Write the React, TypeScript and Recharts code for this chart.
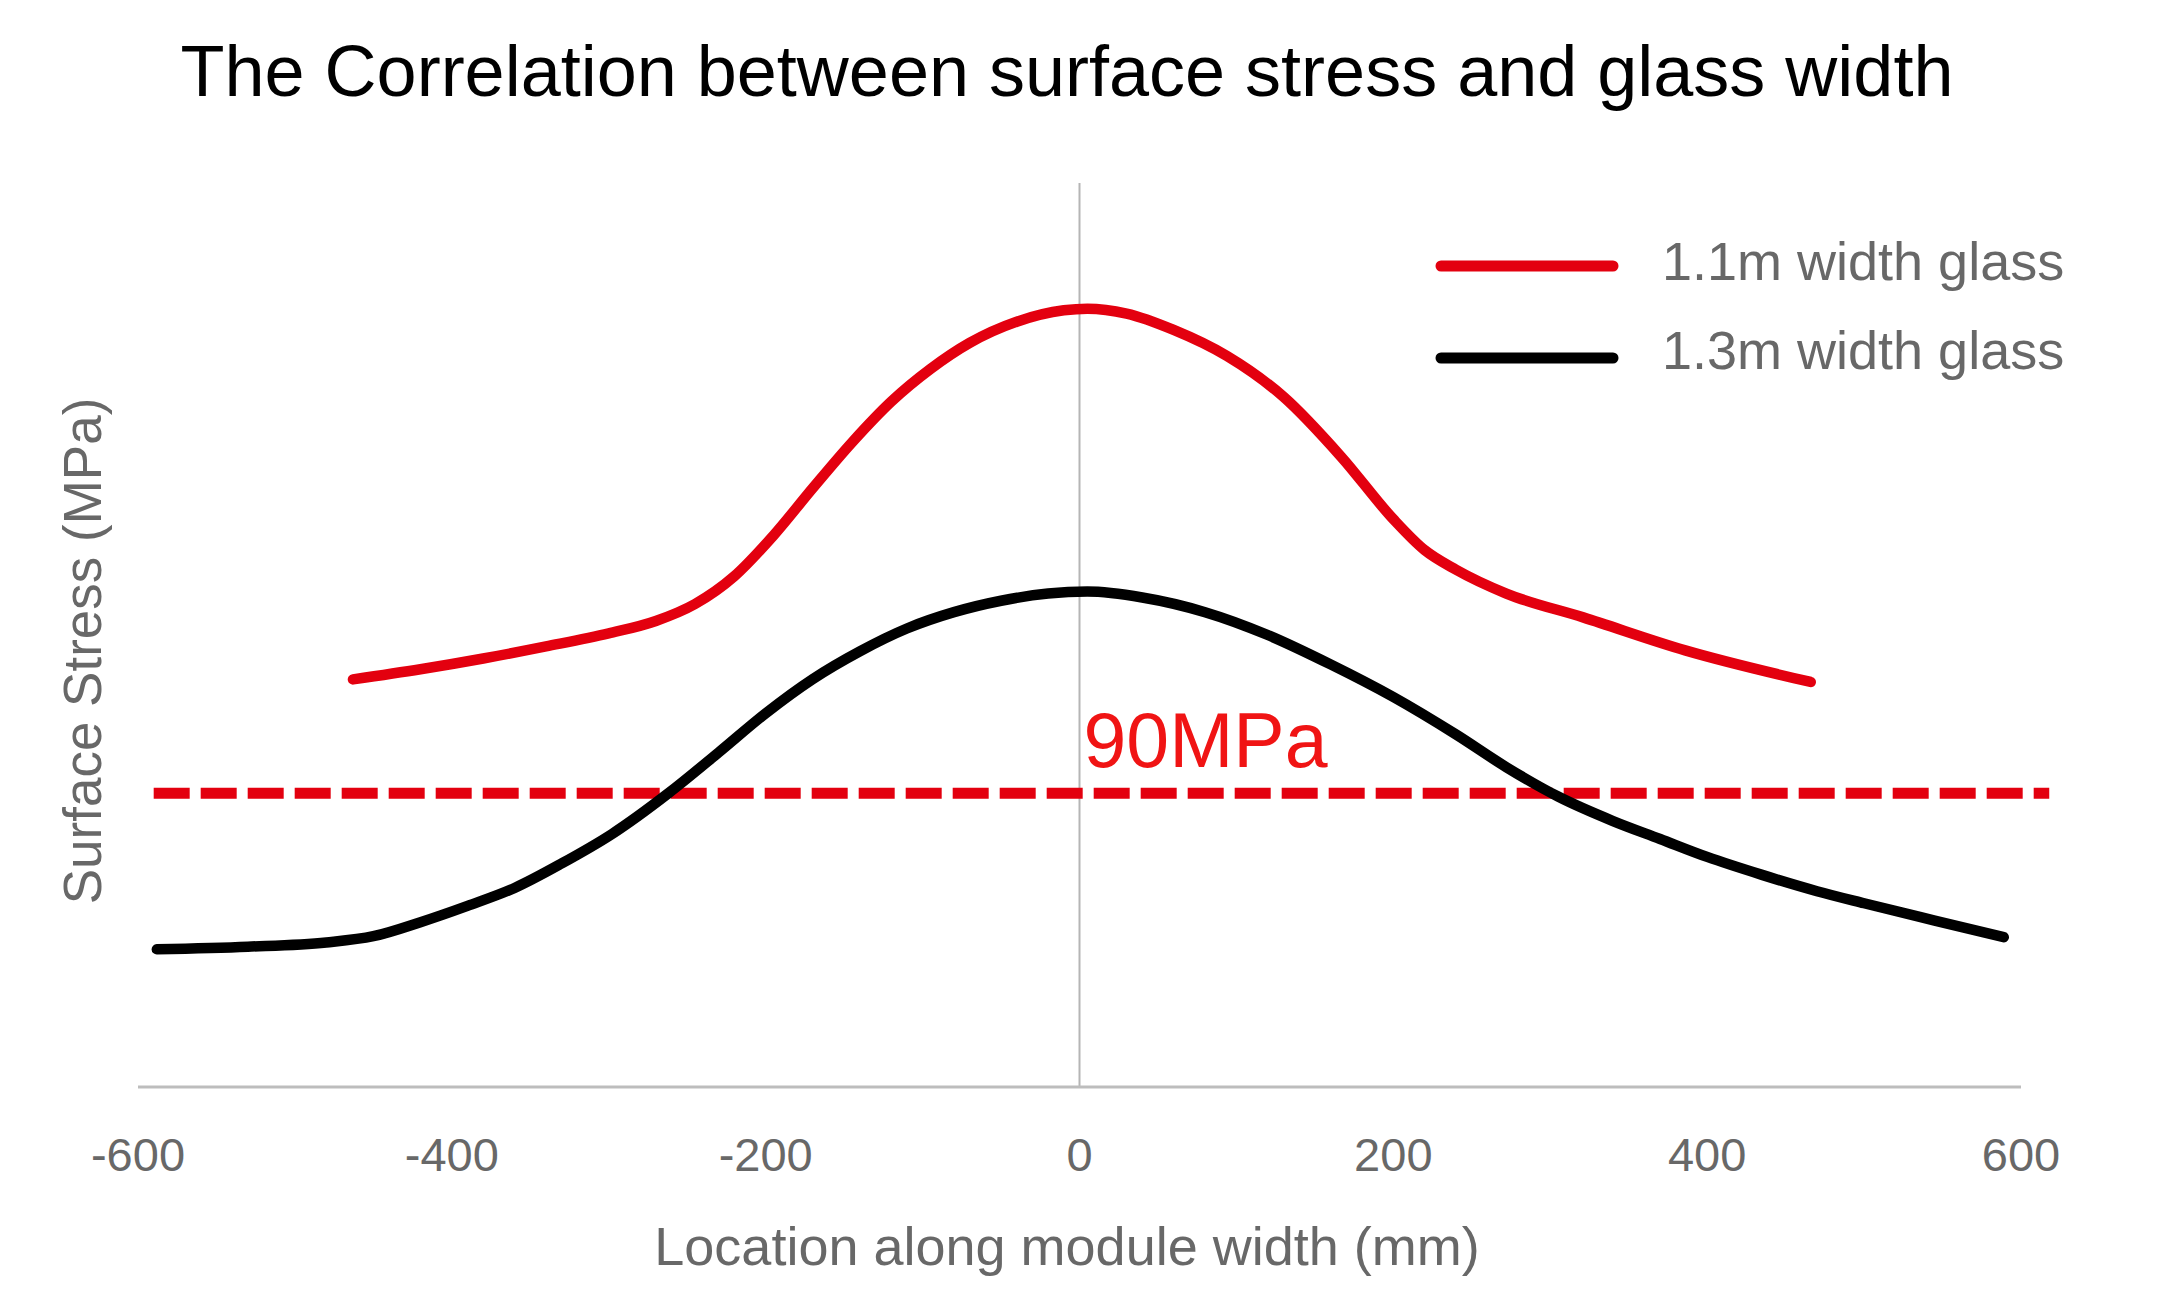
import React from 'react';
import {
  LineChart,
  Line,
  XAxis,
  YAxis,
  ReferenceLine,
  ReferenceDot,
  Legend,
  Customized,
} from 'recharts';

// ---- data ----
const xTicks = [-600, -400, -200, 0, 200, 400, 600];

const glass11Location = [-463, -420, -380, -340, -300, -270, -245, -220, -195, -170, -145, -120, -95, -70, -40, -10, 5, 30, 60, 94, 130, 167, 200, 220, 240, 272, 321, 386, 466];
const glass11Stress = [124.9, 128.0, 131.3, 135.0, 139.0, 142.8, 148.0, 156.5, 169.0, 183.5, 197.5, 210.0, 220.0, 228.0, 234.5, 238.0, 238.5, 237.0, 232.0, 224.0, 211.5, 193.0, 174.0, 164.5, 158.5, 151.2, 143.9, 133.8, 124.1];

const glass13Location = [-588, -530, -480, -450, -420, -390, -360, -330, -298, -262, -230, -200, -170, -140, -110, -80, -50, -20, 5, 40, 80, 120, 160, 200, 240, 272, 305, 340, 370, 400, 435, 470, 500, 545, 589];
const glass13Stress = [42.2, 43.0, 44.3, 46.2, 50.5, 55.5, 61.0, 68.5, 77.5, 90.0, 102.5, 114.5, 125.0, 133.5, 140.5, 145.5, 149.0, 151.2, 151.8, 150.0, 145.5, 138.5, 129.5, 119.5, 108.0, 98.0, 89.0, 81.5, 76.0, 70.5, 65.0, 60.0, 56.3, 51.0, 45.9];

const seriesNames = ['1.1m width glass', '1.3m width glass'];
const limitValue = 90;
const limitLabel = '90MPa';
const limitSpan = [-590, 618];
const yDomainMax = 277;

const titleText = 'The Correlation between surface stress and glass width';
const xLabelText = 'Location along module width (mm)';
const yLabelText = 'Surface Stress (MPa)';

const red11 = glass11Location.map((x, i) => ({ x, y: glass11Stress[i] }));
const black13 = glass13Location.map((x, i) => ({ x, y: glass13Stress[i] }));

// ---- styles ----
const FONT = '"Liberation Sans", Arial, Helvetica, sans-serif';
const RED = '#e3000f';
const BLACK = '#000000';
const GRAY_TEXT = '#686868';

const LegendContent = (props: any) => {
  const payload = props.payload || [];
  return (
    <svg width={720} height={200} style={{ overflow: 'visible' }}>
      {payload.map((p: any, i: number) => (
        <g key={i}>
          <line
            x1={6}
            x2={178}
            y1={46 + i * 92}
            y2={46 + i * 92}
            stroke={p.color}
            strokeWidth={11}
            strokeLinecap="round"
          />
          <text
            x={227}
            y={60 + i * 89}
            fontFamily={FONT}
            fontSize={54}
            fill={GRAY_TEXT}
          >
            {p.value}
          </text>
        </g>
      ))}
    </svg>
  );
};

const Title = () => (
  <text x={1067} y={96} textAnchor="middle" fontFamily={FONT} fontSize={72} fill="#000">
    {titleText}
  </text>
);

export default function App() {
  return (
    <div style={{ position: 'absolute', left: 0, top: 0, background: '#fff' }}>
      <LineChart
        width={2160}
        height={1301}
        margin={{ top: 183, right: 139, bottom: 154, left: 0 }}
      >
        <Customized component={Title} />
        <XAxis
          dataKey="x"
          type="number"
          domain={[-600, 600]}
          ticks={xTicks}
          allowDecimals={false}
          height={60}
          axisLine={{ stroke: '#bdbdbd', strokeWidth: 3 }}
          tickLine={false}
          tickSize={10}
          tickMargin={41}
          tick={{ fontFamily: FONT, fontSize: 47, fill: GRAY_TEXT }}
          label={{
            content: () => (
              <text x={1067} y={1265} textAnchor="middle" fontFamily={FONT} fontSize={54} fill={GRAY_TEXT}>
                {xLabelText}
              </text>
            ),
          }}
        />
        <YAxis
          type="number"
          domain={[0, yDomainMax]}
          width={138}
          tick={false}
          tickLine={false}
          axisLine={false}
          label={{
            content: () => (
              <text
                x={101}
                y={651}
                transform="rotate(-90, 101, 651)"
                textAnchor="middle"
                fontFamily={FONT}
                fontSize={53}
                fill={GRAY_TEXT}
              >
                {yLabelText}
              </text>
            ),
          }}
        />
        <ReferenceLine x={0} stroke="#b5b5b5" strokeWidth={2} />
        <ReferenceLine
          segment={[
            { x: limitSpan[0], y: limitValue },
            { x: limitSpan[1], y: limitValue },
          ]}
          ifOverflow="visible"
          stroke={RED}
          strokeWidth={11}
          strokeDasharray="36 11"
        />
        <ReferenceDot
          x={0}
          y={limitValue}
          r={0}
          ifOverflow="visible"
          shape={(p: any) => (
            <text x={p.cx + 4} y={p.cy - 26} fontFamily={FONT} fontSize={77} fill="#f01414">
              {limitLabel}
            </text>
          )}
        />
        <Line
          data={red11}
          dataKey="y"
          name={seriesNames[0]}
          type="monotone"
          stroke={RED}
          strokeWidth={10.5}
          strokeLinecap="round"
          dot={false}
          activeDot={false}
          isAnimationActive={false}
        />
        <Line
          data={black13}
          dataKey="y"
          name={seriesNames[1]}
          type="monotone"
          stroke={BLACK}
          strokeWidth={10.5}
          strokeLinecap="round"
          dot={false}
          activeDot={false}
          isAnimationActive={false}
        />
        <Legend
          layout="vertical"
          align="center"
          verticalAlign="middle"
          content={<LegendContent />}
          wrapperStyle={{ left: 1435, top: 220, width: 720, height: 200 }}
        />
      </LineChart>
    </div>
  );
}
